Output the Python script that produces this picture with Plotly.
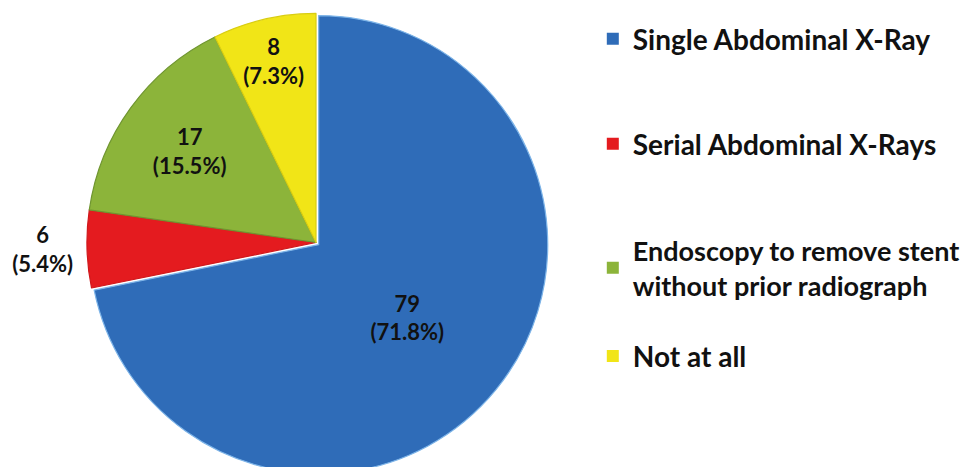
import plotly.graph_objects as go

categories = ["Single Abdominal X-Ray", "Serial Abdominal X-Rays",
              "Endoscopy to remove stent<br>without prior radiograph", "Not at all"]
counts = [79, 6, 17, 8]
percent_labels = ["71.8%", "5.4%", "15.5%", "7.3%"]
colors = ["#2F6CB8", "#E41B1F", "#8CB43A", "#F1E517"]
edge_colors = ["#7DB4E8", "#D0181C", "#6F9530", "#D9CD12"]

FONT = "Lato"

fig = go.Figure()
fig.add_trace(go.Pie(
    labels=categories, values=counts, customdata=percent_labels,
    sort=False, direction="clockwise", rotation=0,
    marker=dict(colors=colors, line=dict(color=edge_colors, width=1.2)),
    pull=[0.015, 0, 0, 0],
    texttemplate="<b>%{value}<br>(%{customdata})</b>",
    textposition=["inside", "outside", "inside", "inside"],
    insidetextorientation="horizontal",
    textfont=dict(family=FONT, size=24, color="#111111"),
    outsidetextfont=dict(family=FONT, size=22, color="#111111"),
    domain=dict(x=[0.0, 0.6318], y=[0.0, 1.0]),
    showlegend=False, hoverinfo="label+value",
))

legend_y = [0.9375, 0.7115, 0.445, 0.2555]
legend_size = [28, 28, 27, 28]
layout_legends = {}
for i, (cat, col) in enumerate(zip(categories, colors)):
    name = "legend" if i == 0 else f"legend{i+1}"
    fig.add_trace(go.Scatter(
        x=[None], y=[None], mode="markers", name=f"<b>{cat}</b>",
        marker=dict(symbol="square", size=17, color=col),
        legend=name, showlegend=True,
    ))
    layout_legends[name] = dict(
        x=0.5998, xanchor="left", y=legend_y[i], yanchor="middle",
        font=dict(family=FONT, size=legend_size[i], color="#111111"),
        bgcolor="rgba(0,0,0,0)", itemsizing="constant",
    )

fig.update_layout(
    width=975, height=467,
    margin=dict(l=0, r=0, t=2, b=0, autoexpand=False),
    paper_bgcolor="white", plot_bgcolor="white",
    xaxis=dict(visible=False), yaxis=dict(visible=False),
    uniformtext=dict(minsize=22, mode="show"),
    **layout_legends,
)

fig.write_html("out.html")
